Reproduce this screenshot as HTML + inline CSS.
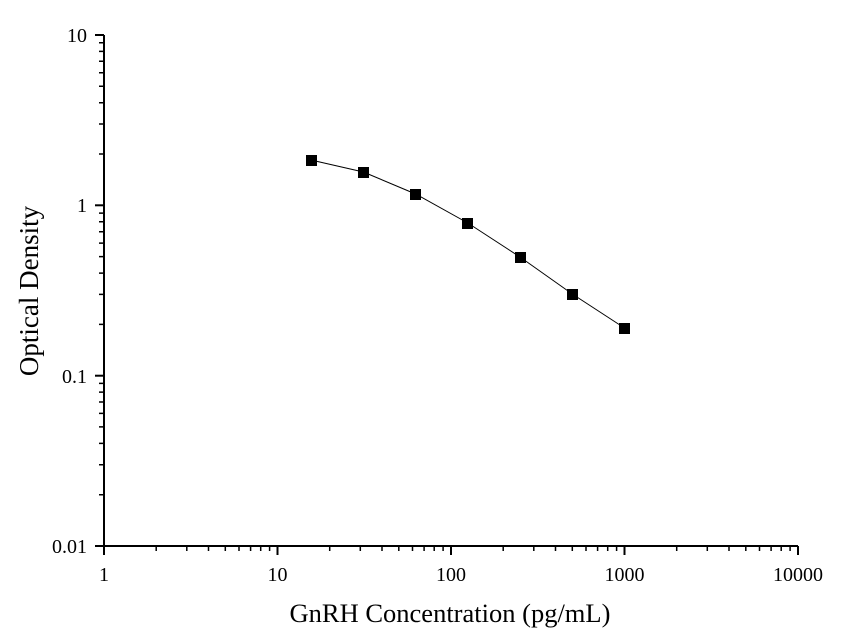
<!DOCTYPE html>
<html><head><meta charset="utf-8"><style>body{margin:0;background:#fff}</style></head><body>
<svg width="853" height="639" xmlns="http://www.w3.org/2000/svg" font-family="Liberation Serif, serif">
<rect width="853" height="639" fill="#fff"/>
<g stroke="#000" stroke-width="2" fill="none">
<line x1="104" y1="35" x2="104" y2="547"/>
<line x1="103" y1="546" x2="798" y2="546"/>
<line x1="95" y1="35" x2="104" y2="35"/>
<line x1="95" y1="205.3" x2="104" y2="205.3"/>
<line x1="95" y1="375.7" x2="104" y2="375.7"/>
<line x1="95" y1="546" x2="104" y2="546"/>
<line x1="104" y1="546" x2="104" y2="555"/>
<line x1="277.5" y1="546" x2="277.5" y2="555"/>
<line x1="451" y1="546" x2="451" y2="555"/>
<line x1="624.5" y1="546" x2="624.5" y2="555"/>
<line x1="798" y1="546" x2="798" y2="555"/>
</g>
<g stroke="#000" stroke-width="1.5">
<path d="M99 494.7H104M99 464.7H104M99 443.4H104M99 426.9H104M99 413.4H104M99 402H104M99 392.1H104M99 383.4H104
M99 324.4H104M99 294.4H104M99 273.1H104M99 256.6H104M99 243.1H104M99 231.7H104M99 221.8H104M99 213.1H104
M99 154H104M99 124H104M99 102.7H104M99 86.2H104M99 72.7H104M99 61.3H104M99 51.4H104M99 42.7H104"/>
<path d="M156.2 546V551M186.8 546V551M208.5 546V551M225.3 546V551M239 546V551M250.6 546V551M260.7 546V551M269.6 546V551
M329.7 546V551M360.3 546V551M382 546V551M398.8 546V551M412.5 546V551M424.1 546V551M434.2 546V551M443.1 546V551
M503.2 546V551M533.8 546V551M555.5 546V551M572.3 546V551M586 546V551M597.6 546V551M607.7 546V551M616.6 546V551
M676.7 546V551M707.3 546V551M729 546V551M745.8 546V551M759.5 546V551M771.1 546V551M781.2 546V551M790.1 546V551"/>
</g>
<polyline points="311,160 363.4,172 415.6,194 467.8,223 520,257 572.3,294 624.5,328" fill="none" stroke="#000" stroke-width="1"/>
<g fill="#000">
<rect x="306" y="155" width="11" height="11"/>
<rect x="358" y="167" width="11" height="11"/>
<rect x="410" y="189" width="11" height="11"/>
<rect x="462" y="218" width="11" height="11"/>
<rect x="515" y="252" width="11" height="11"/>
<rect x="567" y="289" width="11" height="11"/>
<rect x="619" y="323" width="11" height="11"/>
</g>
<g font-size="20" text-anchor="end">
<text x="87" y="42">10</text>
<text x="87" y="212">1</text>
<text x="87" y="383">0.1</text>
<text x="87" y="553">0.01</text>
</g>
<g font-size="20" text-anchor="middle">
<text x="104" y="581">1</text>
<text x="277.5" y="581">10</text>
<text x="451" y="581">100</text>
<text x="624.5" y="581">1000</text>
<text x="798" y="581">10000</text>
</g>
<text x="450" y="622" font-size="26.5" text-anchor="middle">GnRH Concentration (pg/mL)</text>
<text transform="translate(38,291) rotate(-90)" font-size="27" text-anchor="middle">Optical Density</text>
</svg>
</body></html>
